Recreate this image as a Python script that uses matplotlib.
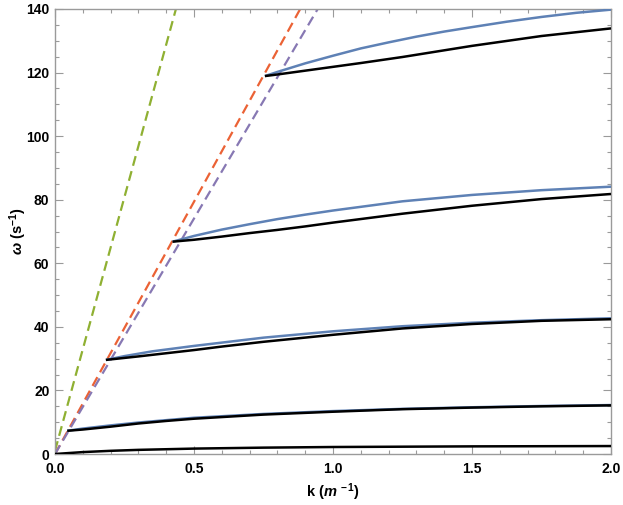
import matplotlib
matplotlib.use("Agg")
import matplotlib.pyplot as plt
from matplotlib.ticker import MultipleLocator

plt.rcParams['font.family'] = ['Liberation Sans', 'DejaVu Sans']
plt.rcParams['mathtext.fontset'] = 'custom'
plt.rcParams['mathtext.it'] = 'Liberation Sans:italic:bold'
plt.rcParams['mathtext.rm'] = 'Liberation Sans:bold'

# ---- data ----
# dashed light lines: endpoints (k, omega)
green_k = [0.0, 0.435]
green_w = [1.0, 140.0]
orange_k = [0.0, 0.882]
orange_w = [0.0, 140.0]
purple_k = [0.0, 0.945]
purple_w = [0.0, 140.0]

# black branches
b1_k = [0.0, 0.1, 0.2, 0.3, 0.5, 0.75, 1.0, 1.5, 2.0]
b1_w = [0.0, 0.6, 1.0, 1.3, 1.7, 2.0, 2.2, 2.4, 2.5]

b2_k = [0.044, 0.1, 0.2, 0.3, 0.4, 0.5, 0.75, 1.0, 1.25, 1.5, 1.75, 2.0]
b2_w = [7.3, 7.7, 8.6, 9.6, 10.4, 11.1, 12.4, 13.3, 14.1, 14.6, 15.0, 15.3]

b3_k = [0.183, 0.3, 0.4, 0.5, 0.6, 0.75, 1.0, 1.25, 1.5, 1.75, 2.0]
b3_w = [29.6, 30.7, 31.7, 32.7, 33.8, 35.3, 37.5, 39.5, 40.9, 41.9, 42.4]

b4_k = [0.423, 0.5, 0.6, 0.7, 0.8, 0.9, 1.0, 1.25, 1.5, 1.75, 2.0]
b4_w = [66.8, 67.4, 68.4, 69.5, 70.5, 71.6, 72.8, 75.6, 78.1, 80.2, 81.8]

b5_k = [0.755, 0.8, 0.9, 1.0, 1.1, 1.25, 1.5, 1.75, 2.0]
b5_w = [118.9, 119.4, 120.6, 121.8, 123.0, 124.9, 128.4, 131.5, 133.9]

# blue branches
u2_k = [0.044, 0.1, 0.2, 0.3, 0.5, 0.75, 1.0, 1.25, 1.5, 1.75, 2.0]
u2_w = [7.3, 8.0, 9.0, 9.9, 11.4, 12.6, 13.5, 14.2, 14.7, 15.1, 15.4]

u3_k = [0.183, 0.25, 0.35, 0.5, 0.75, 1.0, 1.25, 1.5, 1.75, 2.0]
u3_w = [29.6, 30.8, 32.3, 34.0, 36.6, 38.6, 40.2, 41.3, 42.1, 42.7]

u4_k = [0.423, 0.5, 0.6, 0.7, 0.8, 0.9, 1.0, 1.25, 1.5, 1.75, 2.0]
u4_w = [66.8, 68.6, 70.6, 72.3, 73.9, 75.3, 76.6, 79.5, 81.5, 83.0, 84.1]

u5_k = [0.755, 0.8, 0.9, 1.0, 1.1, 1.2, 1.3, 1.4, 1.5, 1.625, 1.75, 1.875, 2.0]
u5_w = [118.9, 120.2, 122.9, 125.3, 127.6, 129.5, 131.3, 132.9, 134.3, 136.0, 137.5, 138.8, 139.8]

x_ticks = [0.0, 0.5, 1.0, 1.5, 2.0]
x_ticklabels = ["0.0", "0.5", "1.0", "1.5", "2.0"]
y_ticks = [0, 20, 40, 60, 80, 100, 120, 140]

# ---- figure ----
fig = plt.figure(figsize=(6.23, 5.05), dpi=100)
ax = fig.add_axes([55/623, 51/505, 556/623, 445/505])

GREEN = '#8FB032'
ORANGE = '#EB6235'
PURPLE = '#8778B3'
BLUE = '#5E81B5'

dash = (0, (4.5, 2.5))
ax.plot(green_k, green_w, color=GREEN, lw=1.6, linestyle=dash, zorder=2)
ax.plot(orange_k, orange_w, color=ORANGE, lw=1.6, linestyle=dash, zorder=2)
ax.plot(purple_k, purple_w, color=PURPLE, lw=1.6, linestyle=dash, zorder=2)

for kk, ww in [(u2_k, u2_w), (u3_k, u3_w), (u4_k, u4_w), (u5_k, u5_w)]:
    ax.plot(kk, ww, color=BLUE, lw=1.8, zorder=3, solid_capstyle='butt')
for kk, ww in [(b1_k, b1_w), (b2_k, b2_w), (b3_k, b3_w), (b4_k, b4_w), (b5_k, b5_w)]:
    ax.plot(kk, ww, color='black', lw=1.8, zorder=4, solid_capstyle='butt')

ax.set_xlim(0, 2)
ax.set_ylim(0, 140)
ax.set_xticks(x_ticks)
ax.set_xticklabels(x_ticklabels)
ax.set_yticks(y_ticks)
ax.xaxis.set_minor_locator(MultipleLocator(0.1))
ax.yaxis.set_minor_locator(MultipleLocator(5))

frame_col = '#9a9a9a'
for s in ax.spines.values():
    s.set_color(frame_col)
    s.set_linewidth(1.0)

ax.tick_params(which='both', direction='in', top=True, right=True,
               color=frame_col, width=0.8)
ax.tick_params(which='major', length=5.5, labelsize=10)
ax.tick_params(axis='x', which='major', pad=6)
ax.tick_params(axis='y', which='major', pad=4)
ax.tick_params(which='minor', length=3)
for lab in ax.get_xticklabels() + ax.get_yticklabels():
    lab.set_fontweight('bold')

ax.set_xlabel(r'k ($m^{\,-1}$)', fontsize=10.5, fontweight='bold', labelpad=4)
ax.set_ylabel(r'$\omega$ (s$^{-1}$)', fontsize=10.5, fontweight='bold', labelpad=-2)

fig.savefig('out.png', dpi=100)
